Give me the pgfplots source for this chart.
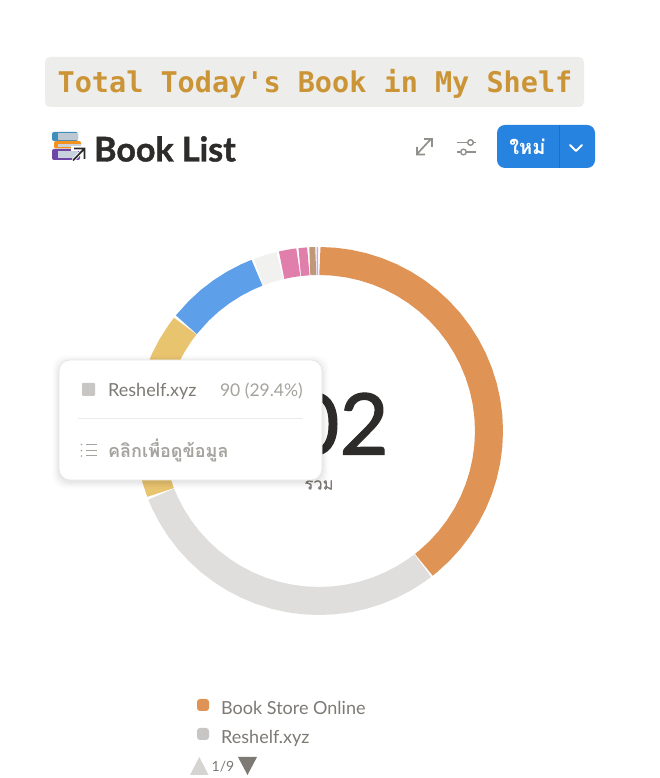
\documentclass[border=0pt]{standalone}
\usepackage{fontspec}
\usepackage{pgfplots}
\pgfplotsset{compat=1.18}
\usepgfplotslibrary{polar}
\setmainfont{Lato}
\newfontfamily\thaifont[Script=Thai]{Loma}
\newfontfamily\monob{DejaVu Sans Mono}[BoldFont={DejaVu Sans Mono Bold}]
\newfontfamily\headfont[FakeBold=1.2]{Lato Bold}
\newfontfamily\numfont[FakeBold=1.3]{Lato}
\newfontfamily\thaibold[Script=Thai,FakeBold=0.6]{Loma}
\definecolor{cOrange}{HTML}{DF9355}
\definecolor{cGrey}{HTML}{DFDEDC}
\definecolor{cYellow}{HTML}{E9C46F}
\definecolor{cBlue}{HTML}{5D9FE9}
\definecolor{cLight}{HTML}{F1F1EF}
\definecolor{cPink}{HTML}{E07FAC}
\definecolor{cTan}{HTML}{C09878}
\definecolor{cPurple}{HTML}{C8A8E0}
\definecolor{txt}{HTML}{7D7A75}
\definecolor{dark}{HTML}{2D2C2A}
\begin{document}
\begin{tikzpicture}
\useasboundingbox (0,0) rectangle (660pt,778pt);
\fill[white] (0,0) rectangle (660pt,778pt);
\begin{polaraxis}[
  at={(319pt,347pt)}, anchor=center,
  width=400pt, height=400pt, scale only axis,
  xmin=0, xmax=360, ymin=0, ymax=200,
  axis lines=none, clip=false, ticks=none,
  every axis plot/.append style={line width=28pt, line cap=butt, line join=round, no marks},
]
% Book Store Online
\addplot[cOrange] coordinates {(89.7,170)(85,170)(80,170)(75,170)(70,170)(65,170)(60,170)(55,170)(50,170)(45,170)(40,170)(35,170)(30,170)(25,170)(20,170)(15,170)(10,170)(5,170)(0,170)(355,170)(350,170)(345,170)(340,170)(335,170)(330,170)(325,170)(320,170)(315,170)(310,170)(308.1,170)};
% Reshelf.xyz
\addplot[cGrey] coordinates {(307.6,170)(305,170)(300,170)(295,170)(290,170)(285,170)(280,170)(275,170)(270,170)(265,170)(260,170)(255,170)(250,170)(245,170)(240,170)(235,170)(230,170)(225,170)(220,170)(215,170)(210,170)(205,170)(201.8,170)};
% yellow
\addplot[cYellow] coordinates {(201.2,170)(195,170)(190,170)(185,170)(180,170)(175,170)(170,170)(165,170)(160,170)(155,170)(150,170)(145,170)(141.9,170)};
% blue
\addplot[cBlue] coordinates {(141.3,170)(135,170)(130,170)(125,170)(120,170)(115,170)(111.4,170)};
% light
\addplot[cLight] coordinates {(110.8,170)(107,170)(103.3,170)};
% pink
\addplot[cPink] coordinates {(102.7,170)(99.5,170)(97,170)};
\addplot[cPink] coordinates {(96.5,170)(93.6,170)};
% tan
\addplot[cTan] coordinates {(93.1,170)(91.1,170)};
% purple
\addplot[cPurple] coordinates {(90.8,170)(90.3,170)};
\end{polaraxis}
\begin{scope}[x=1pt,y=-1pt,shift={(0,778pt)}]
% title bar
\fill[rounded corners=5pt,fill={rgb,255:red,237;green,237;blue,235}] (45,57) rectangle (584,107);
\node[anchor=center,text={rgb,255:red,203;green,149;blue,55},inner sep=0,font=\monob\bfseries\fontsize{28.5}{30}\selectfont] at (315,84) {Total Today's Book in My Shelf};
% heading
\node[anchor=west,inner sep=0,text=dark,font=\headfont\fontsize{34}{36}\selectfont] at (94,149) {Book List};
% book icon
\fill[rounded corners=2pt,fill={rgb,255:red,62;green,142;blue,190}] (52,132) rectangle (78,141);
\fill[fill={rgb,255:red,190;green,200;blue,210}] (58,133.5) rectangle (78,140.5);
\fill[rounded corners=2pt,fill={rgb,255:red,245;green,145;blue,30}] (54,141) rectangle (81,148.5);
\fill[fill={rgb,255:red,205;green,210;blue,215}] (58,144) rectangle (80.5,147);
\fill[rounded corners=2pt,fill={rgb,255:red,110;green,70;blue,165}] (52,149) rectangle (80,160);
\fill[fill={rgb,255:red,200;green,210;blue,222}] (58,151) rectangle (78,158);
\draw[white,line width=3.5pt] (73,160.5) -- (84,149);
\fill[white] (71,146) rectangle (86,151);
\fill[white] (81,146) rectangle (86,160);
\draw[dark,line width=1.7pt] (73,160.5) -- (84,149) (74,148.5) -- (84.5,148.5) -- (84.5,159);
% expand icon
\draw[color={rgb,255:red,145;green,144;blue,140},line width=1.7pt] (417,154) -- (431,139) (424,139) -- (432,139) -- (432,147) (417,147) -- (417,154.5) -- (425,154.5);
% sliders icon
\draw[color={rgb,255:red,145;green,144;blue,140},line width=1.4pt] (457,142.5) -- (467,142.5) (474,142.5) -- (476,142.5) (457,152) -- (460,152) (467,152) -- (476,152);
\draw[color={rgb,255:red,145;green,144;blue,140},line width=1.4pt] (470.5,142.5) circle (2.8) (463.5,152) circle (2.8);
% button
\fill[rounded corners=8pt,fill={rgb,255:red,38;green,131;blue,224}] (497,125) rectangle (595,168);
\draw[color={rgb,255:red,30;green,112;blue,195},line width=0.8pt] (559,125) -- (559,168);
\node[text=white,inner sep=0,font=\thaifont\bfseries\fontsize{20}{22}\selectfont] at (527.5,147) {ใหม่};
\draw[white,line width=1.8pt,line cap=round,line join=round] (570,145) -- (576,151) -- (582,145);
% centre
\node[anchor=east,text=dark,inner sep=0,font=\numfont\fontsize{85}{90}\selectfont] at (389,424) {302};
\node[text=txt,inner sep=0,font=\thaibold\fontsize{16.5}{18}\selectfont] at (319,485) {รวม};
% tooltip shadow
\foreach \o/\a in {7/0.006,6/0.008,5/0.01,4/0.012,3/0.014,2/0.016,1/0.018}{
  \fill[black,opacity=\a,rounded corners=13pt] (59-\o,360-\o+2) rectangle (322+\o,480+\o+2);
}
\filldraw[fill=white,draw={rgb,255:red,230;green,230;blue,228},line width=0.7pt,rounded corners=11pt] (59,360) rectangle (322,480);
\fill[rounded corners=1pt,fill={rgb,255:red,199;green,198;blue,196}] (82,383) rectangle (95,396);
\node[anchor=west,text=txt,inner sep=0,font=\fontsize{18}{20}\selectfont] at (108,391) {Reshelf.xyz};
\node[anchor=east,text={rgb,255:red,165;green,163;blue,158},inner sep=0,font=\fontsize{17.5}{20}\selectfont] at (303,391) {90 (29.4\%)};
\draw[color={rgb,255:red,235;green,235;blue,233},line width=0.8pt] (78,418.5) -- (303,418.5);
\draw[color={rgb,255:red,165;green,163;blue,158},line width=1pt] (86,444.5) -- (97,444.5) (86,450.5) -- (97,450.5) (86,456) -- (97,456);
\fill[color={rgb,255:red,165;green,163;blue,158}] (81.5,444.5) circle (0.8) (81.5,450.5) circle (0.8) (81.5,456) circle (0.8);
\node[anchor=west,text={rgb,255:red,165;green,163;blue,158},inner sep=0,font=\thaifont\bfseries\fontsize{18}{20}\selectfont] at (108,450) {คลิกเพื่อดูข้อมูล};
% legend
\fill[rounded corners=3pt,fill=cOrange] (197,699) rectangle (209,711);
\fill[rounded corners=3pt,fill={rgb,255:red,199;green,198;blue,196}] (197,728) rectangle (209,740);
\node[anchor=west,text=txt,inner sep=0,font=\fontsize{18}{20}\selectfont] at (221,708) {Book Store Online};
\node[anchor=west,text=txt,inner sep=0,font=\fontsize{18}{20}\selectfont] at (221,738) {Reshelf.xyz};
\fill[fill={rgb,255:red,213;green,212;blue,208}] (190,775) -- (208.5,775) -- (199.3,757) -- cycle;
\node[anchor=center,text=txt,inner sep=0,font=\fontsize{14}{16}\selectfont] at (223,766.5) {1/9};
\fill[fill={rgb,255:red,125;green,122;blue,117}] (238,757) -- (257,757) -- (247.5,775) -- cycle;
\end{scope}
\end{tikzpicture}
\end{document}
